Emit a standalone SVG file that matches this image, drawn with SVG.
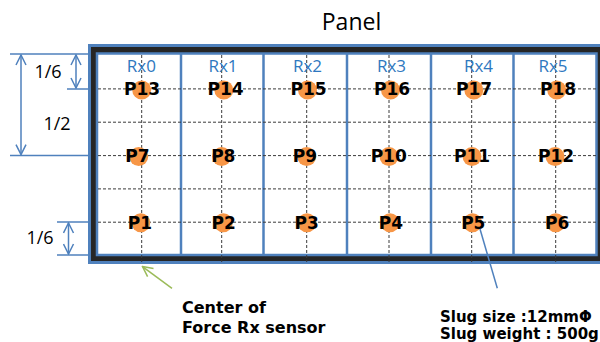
<svg xmlns="http://www.w3.org/2000/svg" width="600" height="342" viewBox="0 0 600 342">
  <defs>
    <style>
      .dim { stroke: #4F81BD; stroke-width: 1.5; fill: none; }
      .grid { stroke: #3a3a3a; stroke-width: 1; stroke-dasharray: 3 2; fill: none; }
      .cellline { stroke: #4F81BD; stroke-width: 2.5; fill: none; }
      .cellbox { stroke: #4F81BD; stroke-width: 2.5; fill: #ffffff; }
      .dot { fill: #F79646; }
      .plabel { font-family: "DejaVu Sans", Verdana, sans-serif; font-weight: bold; font-size: 17px; fill: #000; text-anchor: middle; }
      .rx { font-family: "Open Sans", "Liberation Sans", sans-serif; font-size: 17px; fill: #2E78C0; text-anchor: middle; }
      .frac { font-family: "Open Sans", "Liberation Sans", sans-serif; font-size: 18px; fill: #000; text-anchor: middle; }
      .note { font-family: "DejaVu Sans", Verdana, sans-serif; font-weight: bold; font-size: 15px; fill: #000; }
      .note2 { font-family: "DejaVu Sans", Verdana, sans-serif; font-weight: bold; font-size: 16px; fill: #000; }
      .title { font-family: "Open Sans", "Liberation Sans", sans-serif; font-size: 23px; fill: #000; text-anchor: middle; }
    </style>
    <marker id="vhead" viewBox="0 0 12 12" refX="11" refY="6" markerWidth="12" markerHeight="12" markerUnits="userSpaceOnUse" orient="auto-start-reverse">
      <path d="M1,1 L11,6 L1,11" fill="none" stroke="#4F81BD" stroke-width="1.5"/>
    </marker>
    <marker id="ghead" viewBox="0 0 12 12" refX="11" refY="6" markerWidth="12" markerHeight="12" markerUnits="userSpaceOnUse" orient="auto">
      <path d="M1,1 L11,6 L1,11" fill="none" stroke="#9BBB59" stroke-width="1.5"/>
    </marker>
  </defs>

  <rect x="0" y="0" width="600" height="342" fill="#ffffff"/>

  <g id="title">
    <text class="title" x="351.5" y="29.5">Panel</text>
  </g>

  <g id="dimensions">
    <line class="dim" x1="10" y1="54" x2="92" y2="54"/>
    <line class="dim" x1="67" y1="89" x2="97" y2="89"/>
    <line class="dim" x1="10" y1="155.6" x2="97" y2="155.6"/>
    <line class="dim" x1="57" y1="222" x2="97" y2="222"/>
    <line class="dim" x1="57" y1="255" x2="92" y2="255"/>
    <line class="dim" x1="21" y1="55" x2="21" y2="154.6" marker-start="url(#vhead)" marker-end="url(#vhead)"/>
    <line class="dim" x1="76" y1="55" x2="76" y2="88" marker-start="url(#vhead)" marker-end="url(#vhead)"/>
    <line class="dim" x1="68.5" y1="223" x2="68.5" y2="254" marker-start="url(#vhead)" marker-end="url(#vhead)"/>
    <text class="frac" x="48" y="77.5">1/6</text>
    <text class="frac" x="57" y="129.5">1/2</text>
    <text class="frac" x="40" y="244">1/6</text>
  </g>

  <g id="panel">
    <rect x="89.5" y="45.5" width="520" height="217" fill="#262626" stroke="#4F81BD" stroke-width="3"/>
    <rect class="cellbox" x="97" y="53.5" width="499.5" height="201.5"/>
    <line class="cellline" x1="181" y1="53.5" x2="181" y2="255"/>
    <line class="cellline" x1="263.5" y1="53.5" x2="263.5" y2="255"/>
    <line class="cellline" x1="347" y1="53.5" x2="347" y2="255"/>
    <line class="cellline" x1="431" y1="53.5" x2="431" y2="255"/>
    <line class="cellline" x1="513.5" y1="53.5" x2="513.5" y2="255"/>
  </g>

  <g id="grid">
    <line class="grid" x1="98" y1="88.9" x2="596" y2="88.9"/>
    <line class="grid" x1="98" y1="122.2" x2="596" y2="122.2"/>
    <line class="grid" x1="98" y1="155.6" x2="596" y2="155.6"/>
    <line class="grid" x1="98" y1="188.9" x2="596" y2="188.9"/>
    <line class="grid" x1="98" y1="222.2" x2="596" y2="222.2"/>
    <line class="grid" x1="141.7" y1="55" x2="141.7" y2="262"/>
    <line class="grid" x1="221.7" y1="55" x2="221.7" y2="262"/>
    <line class="grid" x1="306.7" y1="55" x2="306.7" y2="262"/>
    <line class="grid" x1="389" y1="55" x2="389" y2="262"/>
    <line class="grid" x1="471.7" y1="55" x2="471.7" y2="262"/>
    <line class="grid" x1="555.7" y1="55" x2="555.7" y2="262"/>
  </g>

  <g id="rx-labels">
    <text class="rx" x="141.3" y="71.5">Rx0</text>
    <text class="rx" x="223" y="71.5">Rx1</text>
    <text class="rx" x="307.5" y="71.5">Rx2</text>
    <text class="rx" x="391.5" y="71.5">Rx3</text>
    <text class="rx" x="478.5" y="71.5">Rx4</text>
    <text class="rx" x="553" y="71.5">Rx5</text>
  </g>

  <g id="P13"><circle class="dot" cx="141.7" cy="90" r="9.5"/><text class="plabel" x="142" y="95.4">P13</text></g>
  <g id="P14"><circle class="dot" cx="223.8" cy="90" r="9.5"/><text class="plabel" x="225.5" y="95.4">P14</text></g>
  <g id="P15"><circle class="dot" cx="307.5" cy="90" r="9.5"/><text class="plabel" x="308.5" y="95.4">P15</text></g>
  <g id="P16"><circle class="dot" cx="390.5" cy="90" r="9.5"/><text class="plabel" x="392" y="95.4">P16</text></g>
  <g id="P17"><circle class="dot" cx="473.8" cy="90" r="9.5"/><text class="plabel" x="474" y="95.4">P17</text></g>
  <g id="P18"><circle class="dot" cx="556.7" cy="90" r="9.5"/><text class="plabel" x="558" y="95.4">P18</text></g>

  <g id="P7"><circle class="dot" cx="138.7" cy="156.6" r="9.5"/><text class="plabel" x="137.5" y="162.1">P7</text></g>
  <g id="P8"><circle class="dot" cx="221.7" cy="156.6" r="9.5"/><text class="plabel" x="223.3" y="162.1">P8</text></g>
  <g id="P9"><circle class="dot" cx="306.7" cy="156.6" r="9.5"/><text class="plabel" x="305" y="162.1">P9</text></g>
  <g id="P10"><circle class="dot" cx="389" cy="156.6" r="9.5"/><text class="plabel" x="388.7" y="162.1">P10</text></g>
  <g id="P11"><circle class="dot" cx="472" cy="156.6" r="9.5"/><text class="plabel" x="472" y="162.1">P11</text></g>
  <g id="P12"><circle class="dot" cx="555" cy="156.6" r="9.5"/><text class="plabel" x="556" y="162.1">P12</text></g>

  <g id="P1"><circle class="dot" cx="140.8" cy="222.7" r="9.5"/><text class="plabel" x="140" y="228.7">P1</text></g>
  <g id="P2"><circle class="dot" cx="223.3" cy="222.7" r="9.5"/><text class="plabel" x="223.7" y="228.7">P2</text></g>
  <g id="P3"><circle class="dot" cx="307" cy="222.7" r="9.5"/><text class="plabel" x="306.7" y="228.7">P3</text></g>
  <g id="P4"><circle class="dot" cx="390" cy="222.7" r="9.5"/><text class="plabel" x="391" y="228.7">P4</text></g>
  <g id="P5"><circle class="dot" cx="472.5" cy="222.7" r="9.5"/><text class="plabel" x="473.3" y="228.7">P5</text></g>
  <g id="P6"><circle class="dot" cx="555.7" cy="222.7" r="9.5"/><text class="plabel" x="557.2" y="228.7">P6</text></g>

  <g id="connectors">
    <line x1="172" y1="288.3" x2="142.5" y2="266.6" stroke="#9BBB59" stroke-width="1.5" marker-end="url(#ghead)"/>
    <line x1="480" y1="229" x2="497.3" y2="288.3" stroke="#4F81BD" stroke-width="1.5"/>
  </g>

  <g id="note-center">
    <text class="note2" x="182" y="313">Center of</text>
    <text class="note2" x="182" y="333">Force Rx sensor</text>
  </g>
  <g id="note-slug">
    <text class="note" x="440" y="322">Slug size :12mmΦ</text>
    <text class="note" x="440" y="338.5">Slug weight : 500g</text>
  </g>
</svg>
